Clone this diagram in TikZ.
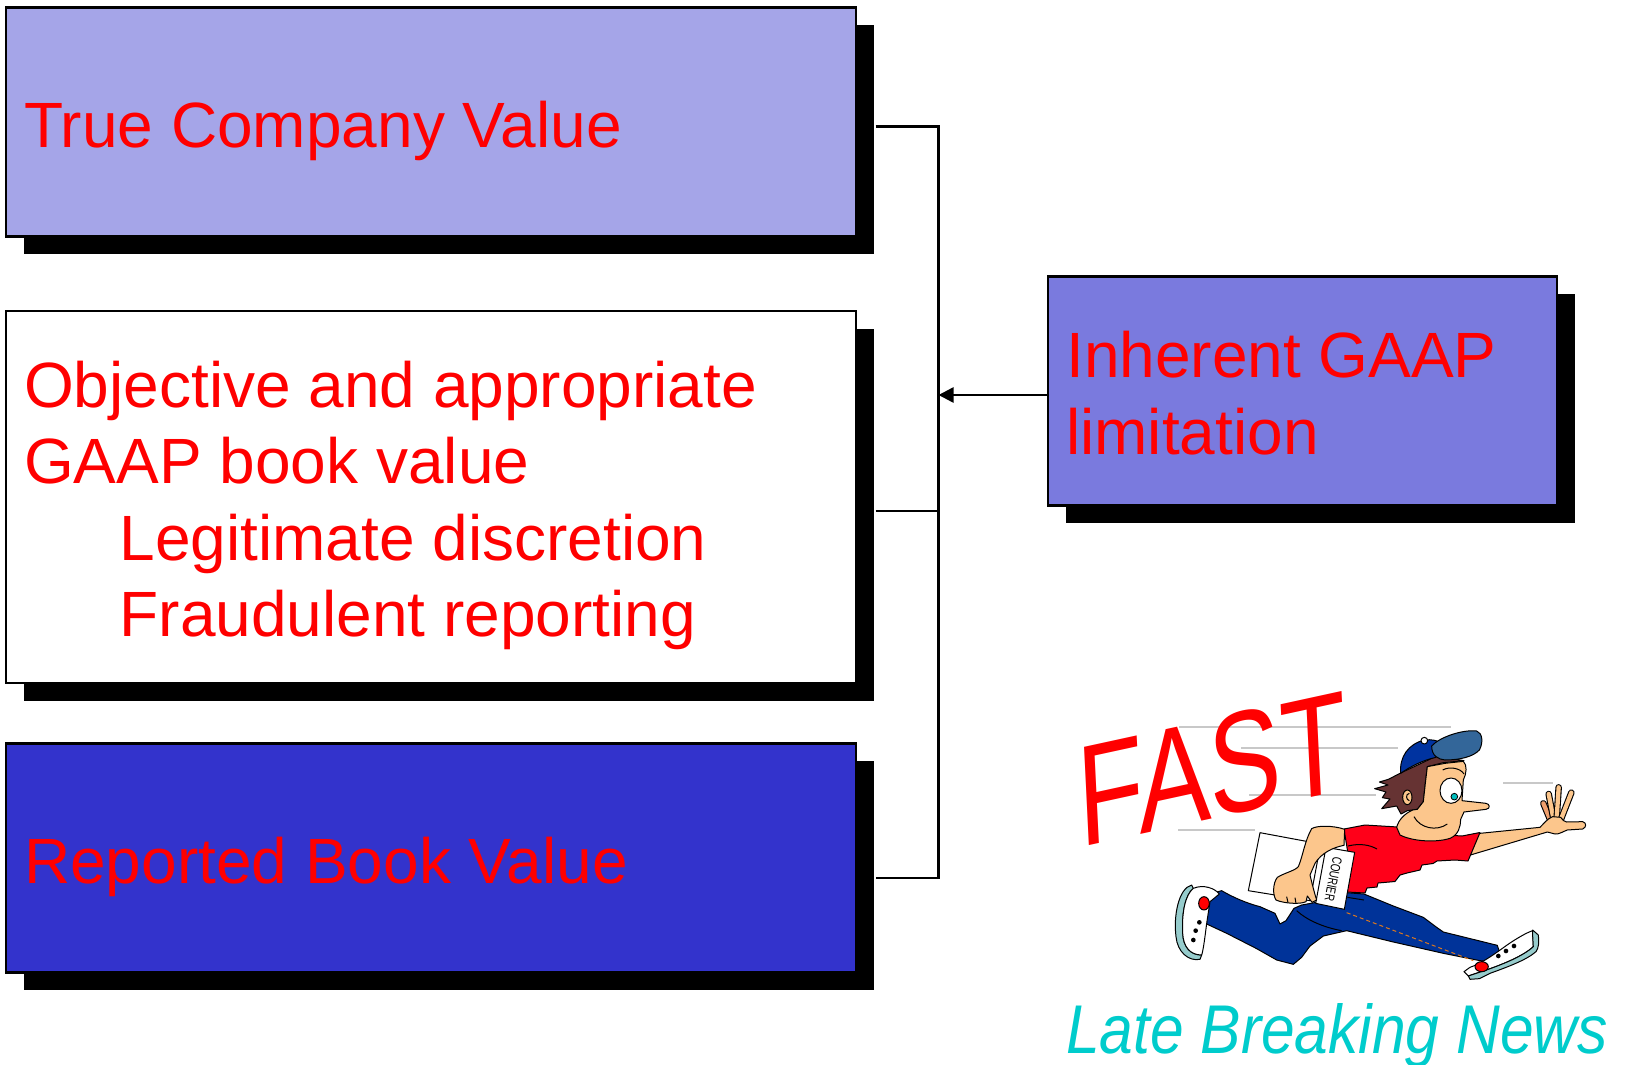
\documentclass[tikz,border=0pt]{standalone}
\usepackage{fontspec}
\setmainfont{Liberation Sans}
\usepackage{graphicx}
\usetikzlibrary{shadows,arrows.meta,calc}

\definecolor{lavender}{RGB}{165,165,232}
\definecolor{periwinkle}{RGB}{122,122,222}
\definecolor{royal}{RGB}{51,51,204}
\definecolor{txtred}{RGB}{255,0,0}
\definecolor{newscyan}{RGB}{0,204,204}
\definecolor{skin}{RGB}{252,198,140}
\definecolor{skindark}{RGB}{240,160,110}
\definecolor{shirtred}{RGB}{255,0,25}
\definecolor{pantsblue}{RGB}{0,51,153}
\definecolor{capblue}{RGB}{0,51,160}
\definecolor{brimblue}{RGB}{51,102,153}
\definecolor{hairbrown}{RGB}{102,51,51}
\definecolor{soleteal}{RGB}{150,204,204}
\definecolor{speedgray}{RGB}{200,200,200}
\definecolor{seamorange}{RGB}{220,120,30}
\definecolor{pupilcyan}{RGB}{0,190,190}

\begin{document}
\begin{tikzpicture}[x=1pt, y=-1pt,
  valuebox/.style={draw=black, line width=2.5pt, rectangle, inner sep=0pt, outer sep=0pt,
    anchor=north west,
    drop shadow={shadow xshift=17.5pt, shadow yshift=-17.5pt, fill=black, opacity=1}},
  boxtext/.style={anchor=base west, inner sep=0pt, text=txtred,
    font=\fontsize{64}{76}\selectfont},
  conn/.style={line width=2.5pt, draw=black},
  speedline/.style={draw=speedgray, line width=2pt},
  ink/.style={draw=black, line width=1pt, line join=round},
]
\useasboundingbox (0,0) rectangle (1627,1065);
\fill[white] (0,0) rectangle (1627,1065);

% ---------- value boxes ----------
\node[valuebox, fill=lavender, minimum width=850pt, minimum height=229pt] (b1) at (6,7.5) {};
\node[valuebox, fill=white, minimum width=850pt, minimum height=372pt] (b2) at (6,311) {};
\node[valuebox, fill=royal, minimum width=850pt, minimum height=229pt] (b3) at (6,743.5) {};
\node[valuebox, fill=periwinkle, minimum width=509pt, minimum height=229pt] (b4) at (1048,276.5) {};

\node[boxtext] (t1) at (24,147) {True Company Value};
\node[boxtext] (t2a) at (24,407) {Objective and appropriate};
\node[boxtext] (t2b) at (24,483.5) {GAAP book value};
\node[boxtext] (t2c) at (119.5,560) {Legitimate discretion};
\node[boxtext] (t2d) at (119.5,636.5) {Fraudulent reporting};
\node[boxtext] (t3) at (24,883) {Reported Book Value};
\node[boxtext] (t4a) at (1066,377.5) {Inherent GAAP};
\node[boxtext] (t4b) at (1066,454) {limitation};

% ---------- bracket and arrow ----------
\coordinate (j1) at (938.5,126.7);
\coordinate (j2) at (938.5,511);
\coordinate (j3) at (938.5,878);
\coordinate (ja) at (938.5,395);
\draw[conn, line join=miter] ($(b1.east |- j1)+(19.5,0)$) -- (j1) -- (j3) -- ($(b3.east |- j3)+(19.5,0)$);
\draw[conn] ($(b2.east |- j2)+(19.5,0)$) -- (j2);
\draw[conn, -{Triangle[length=15pt, width=15pt]}] (b4.west |- ja) -- (ja);

% ---------- speed lines ----------
\draw[speedline] (1179,727) -- (1451,727);
\draw[speedline] (1241,748) -- (1398,748);
\draw[speedline] (1249,795) -- (1376,795);
\draw[speedline] (1178,830) -- (1255,830);
\draw[speedline] (1503,783) -- (1553,783);

% ---------- headline ----------
\node[anchor=base west, inner sep=0pt, text=txtred, font=\fontsize{143}{150}\selectfont,
  rotate=2.8, yslant=0.167, xscale=0.76, transform shape] (fast) at (1080,847.5) {FAST};
\node[anchor=base west, inner sep=0pt, text=newscyan, font=\fontsize{69}{80}\selectfont\itshape,
  xscale=0.877, transform shape] (news) at (1066,1053) {Late Breaking News};

% ---------- runner: legs and shoes ----------
\begin{scope}[shift={(1160,870)}, scale=0.3333]
  \filldraw[ink, fill=pantsblue] (150,72) -- (185,62) .. controls (215,80) and (260,100) .. (300,110)
    -- (345,130) -- (360,162) -- (378,152) -- (402,115) -- (425,105) -- (480,95) -- (560,68)
    -- (612,72) -- (700,108) -- (790,142) -- (830,172) -- (850,186) -- (1012,226) -- (1020,250)
    -- (998,276) -- (960,272) -- (850,250) -- (700,216) -- (560,182) -- (490,198) -- (450,228)
    -- (425,262) -- (400,283) -- (350,270) -- (290,236) -- (200,190) -- (140,162) -- (136,110) -- cycle;
  \draw[black, line width=1pt] (410,122) .. controls (440,150) and (490,172) .. (545,182);
  \draw[black, line width=1pt] (562,82) -- (612,90);
  \draw[seamorange, line width=1pt, dash pattern=on 4pt off 3pt] (560,128) -- (940,272);
  % back shoe
  \filldraw[ink, fill=soleteal] (95,45) .. controls (55,55) and (40,140) .. (48,200)
    .. controls (52,245) and (85,275) .. (120,268) -- (125,255)
    .. controls (90,255) and (70,230) .. (68,190) .. controls (65,130) and (75,75) .. (100,55) -- cycle;
  \filldraw[ink, fill=white] (100,55) .. controls (130,42) and (165,55) .. (178,72) -- (150,95)
    -- (140,160) .. controls (135,200) and (130,240) .. (125,255)
    .. controls (90,255) and (70,230) .. (68,190) .. controls (65,130) and (75,75) .. (100,55) -- cycle;
  \filldraw[ink, fill=red] (132,100) ellipse [x radius=16, y radius=20];
  \fill[black] (118,157) circle [radius=7] (107,182) circle [radius=7] (100,210) circle [radius=7];
  % front shoe
  \filldraw[ink, fill=white] (930,292) .. controls (960,282) and (990,262) .. (1040,226)
    .. controls (1070,205) and (1100,188) .. (1118,182) -- (1120,230)
    .. controls (1090,258) and (1030,282) .. (985,298) -- (925,318) -- (912,305) -- cycle;
  \filldraw[ink, fill=soleteal] (1118,180) -- (1135,195) .. controls (1138,215) and (1136,235) .. (1128,245)
    .. controls (1100,270) and (1040,292) .. (990,310) -- (958,326) -- (930,328) -- (925,318)
    -- (985,298) .. controls (1030,282) and (1090,258) .. (1120,230) -- (1118,195) -- cycle;
  \filldraw[ink, fill=red] (965,290) ellipse [x radius=20, y radius=15];
  \fill[black] (1015,258) circle [radius=7] (1038,243) circle [radius=7] (1062,228) circle [radius=7];
\end{scope}

% ---------- runner: outstretched arm and hand ----------
\begin{scope}[shift={(1440,770)}, scale=0.3333]
  \draw[black, line width=6.5pt, line cap=round] (330,148) -- (310,100);
  \draw[skindark, line width=4.3pt, line cap=round] (330,148) -- (310,100);
  \draw[black, line width=6.5pt, line cap=round] (340,145) -- (326,72);
  \draw[skin, line width=4.3pt, line cap=round] (340,145) -- (326,72);
  \draw[black, line width=6.5pt, line cap=round] (350,145) -- (356,52);
  \draw[skin, line width=4.3pt, line cap=round] (350,145) -- (356,52);
  \draw[black, line width=6.5pt, line cap=round] (362,150) -- (394,68);
  \draw[skin, line width=4.3pt, line cap=round] (362,150) -- (394,68);
  \filldraw[ink, fill=skin] (100,192) -- (300,172) .. controls (312,160) and (322,146) .. (338,140)
    -- (362,142) .. controls (368,150) and (372,155) .. (380,156) -- (428,155)
    .. controls (440,158) and (440,172) .. (428,177) -- (382,180)
    .. controls (368,185) and (358,193) .. (345,192) -- (322,186) -- (88,256) -- cycle;
\end{scope}

% ---------- runner: shirt ----------
\filldraw[ink, fill=shirtred] (1344,829) -- (1365,825) -- (1398,827) -- (1430,834) -- (1462,836)
  -- (1480,832.5) -- (1468,861) -- (1455,860) -- (1437,861) -- (1433,863.5) -- (1422,865)
  -- (1420,870) -- (1407,873) -- (1400,875) -- (1395,881.5) -- (1378,883) -- (1377,887)
  -- (1367,888) -- (1365,893) -- (1347,892) -- (1349,860) -- cycle;
\draw[black, line width=1pt] (1348,846) .. controls (1360,843) and (1370,845) .. (1377,849);

% ---------- runner: parcel and carrying arm ----------
\begin{scope}[shift={(1220,820)}, scale=0.3333]
  \filldraw[ink, fill=white] (120,38) -- (302,72) -- (270,242) -- (85,212) -- cycle;
  \filldraw[ink, fill=white] (318,82) -- (404,97) -- (373,268) -- (287,250) -- cycle;
  \node[rotate=-101, inner sep=0pt, font=\fontsize{13.5}{14}\selectfont] (courier) at (340,177)
    {\scalebox{0.72}[1]{COURIER}};
  \filldraw[ink, fill=skin] (275,26) .. controls (290,16) and (340,16) .. (374,28) -- (372,76)
    .. controls (340,82) and (305,98) .. (285,130) -- (270,165)
    .. controls (276,190) and (282,215) .. (290,240) -- (276,247) -- (262,228) -- (258,245)
    .. controls (240,254) and (190,250) .. (168,240) .. controls (158,225) and (158,190) .. (172,172)
    .. controls (195,158) and (225,152) .. (235,140) .. controls (248,110) and (255,60) .. (275,26) -- cycle;
  \draw[black, line width=1pt] (200,230) -- (204,248) (225,233) -- (228,250);
\end{scope}

% ---------- runner: head and cap ----------
\begin{scope}[shift={(1330,720)}, scale=0.3333]
  \filldraw[ink, fill=hairbrown] (214,158) -- (175,178) -- (148,186) -- (174,195) -- (134,206)
    -- (168,216) -- (157,233) -- (180,237) -- (155,266) -- (200,258) -- (213,282) -- (232,272)
    -- (262,268) -- (280,245) -- (286,190) -- (292,140) -- (340,128) -- (402,122) -- (320,108) -- cycle;
  \filldraw[ink, fill=skin] (292,140) -- (345,130) -- (400,124) .. controls (412,135) and (410,160) .. (400,180)
    -- (396,242) -- (468,250) .. controls (480,252) and (482,266) .. (468,268) -- (402,276)
    -- (392,298) .. controls (392,320) and (385,345) .. (360,355)
    .. controls (320,368) and (250,365) .. (210,345) -- (200,322)
    .. controls (205,300) and (225,280) .. (248,270) -- (262,268) -- (280,245) -- (286,190) -- cycle;
  \filldraw[ink, fill=skin] (232,232) ellipse [x radius=14, y radius=22];
  \draw[black, line width=1pt] (238,220) .. controls (226,222) and (228,240) .. (238,242);
  \filldraw[ink, fill=white] (363,212) ellipse [x radius=33, y radius=38];
  \filldraw[draw=black, line width=0.8pt, fill=pupilcyan] (373,230) circle [radius=10];
  \draw[black, line width=1pt] (338,150) .. controls (360,138) and (392,145) .. (402,162);
  \draw[black, line width=1pt] (252,290) .. controls (270,325) and (320,335) .. (352,312);
  \filldraw[ink, fill=capblue] (212,160) .. controls (208,110) and (235,72) .. (283,60)
    .. controls (305,57) and (325,62) .. (335,70) -- (318,112)
    .. controls (280,120) and (240,140) .. (212,160) -- cycle;
  \filldraw[ink, fill=brimblue] (305,78) .. controls (330,50) and (400,28) .. (440,33)
    .. controls (458,38) and (460,70) .. (448,90) .. controls (430,110) and (390,120) .. (345,120)
    .. controls (325,118) and (305,108) .. (305,78) -- cycle;
  \filldraw[ink, fill=white] (283,62) circle [radius=10];
\end{scope}
\end{tikzpicture}
\end{document}
